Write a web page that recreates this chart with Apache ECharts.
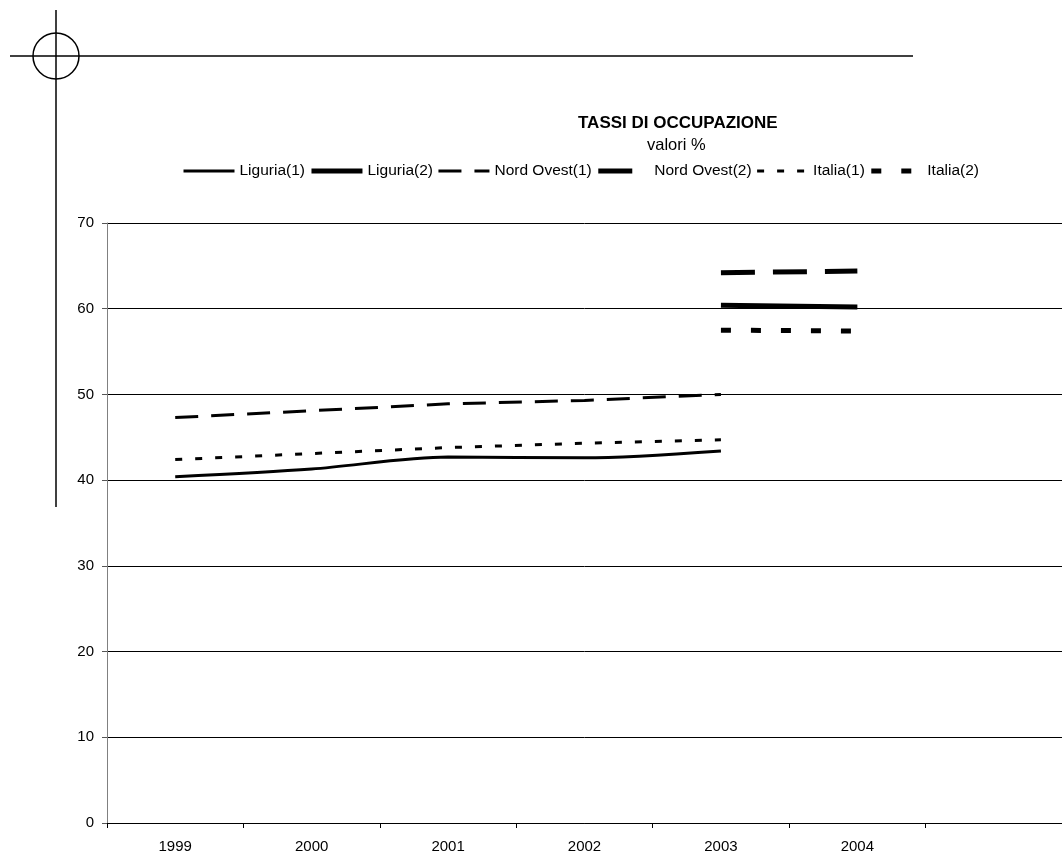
<!DOCTYPE html>
<html>
<head>
<meta charset="utf-8">
<script src="https://cdn.jsdelivr.net/npm/echarts@6/dist/echarts.min.js"></script>
<style>
  html, body { margin: 0; padding: 0; background: #fff; }
  #chart { width: 1062px; height: 854px; }
</style>
</head>
<body>
<div id="chart"></div>
<script>
// dati
const years = ['1999', '2000', '2001', '2002', '2003', '2004', ''];
const liguria1 = [40.4, 41.3, 42.7, 42.6, 43.4, null, null];
const liguria2 = [null, null, null, null, 60.4, 60.2, null];
const nordOvest1 = [47.3, 48.1, 48.9, 49.3, 50.0, null, null];
const nordOvest2 = [null, null, null, null, 64.2, 64.4, null];
const italia1 = [42.4, 43.1, 43.8, 44.3, 44.7, null, null];
const italia2 = [null, null, null, null, 57.5, 57.4, null];
const yTicks = [0, 10, 20, 30, 40, 50, 60, 70];

const font = 'Liberation Sans, Arial, sans-serif';
const chart = echarts.init(document.getElementById('chart'));

function lineSeries(name, data, width, dash, smooth) {
    return {
        name: name,
        type: 'line',
        data: data,
        symbol: 'none',
        showSymbol: false,
        smooth: smooth || false,
        connectNulls: false,
        itemStyle: { color: '#000' },
        lineStyle: { color: '#000', width: width, type: dash, cap: 'butt' }
    };
}

chart.setOption({
    animation: false,
    backgroundColor: '#fff',
    textStyle: { fontFamily: font, color: '#000' },
    title: [
        {
            text: 'TASSI DI OCCUPAZIONE',
            left: 578,
            top: 115,
            padding: 0,
            textStyle: { fontFamily: font, fontSize: 17, fontWeight: 'bold', color: '#000' }
        },
        {
            text: 'valori %',
            left: 647,
            top: 137,
            padding: 0,
            textStyle: { fontFamily: font, fontSize: 16.5, fontWeight: 'normal', color: '#000' }
        }
    ],
    legend: {
        left: 182,
        top: 163,
        padding: 0,
        itemWidth: 51,
        itemHeight: 14,
        itemGap: 4,
        itemStyle: { color: 'rgba(0,0,0,0)', borderColor: 'rgba(0,0,0,0)', borderWidth: 0 },
        lineStyle: { width: 'inherit', type: 'inherit', color: '#000' },
        textStyle: { fontFamily: font, fontSize: 15.5, color: '#000' },
        data: ['Liguria(1)', 'Liguria(2)', 'Nord Ovest(1)', 'Nord Ovest(2)', 'Italia(1)', 'Italia(2)']
    },
    grid: {
        left: 107,
        right: -12,
        top: 223,
        bottom: 31,
        containLabel: false
    },
    xAxis: {
        type: 'category',
        data: years,
        boundaryGap: true,
        axisLine: { show: true, lineStyle: { color: '#000', width: 1 } },
        axisTick: { show: true, length: 5, alignWithLabel: false, lineStyle: { color: '#000' } },
        axisLabel: { margin: 16, fontSize: 15, fontFamily: font, color: '#000', interval: 0 },
        splitLine: { show: false }
    },
    yAxis: {
        type: 'value',
        min: yTicks[0],
        max: yTicks[yTicks.length - 1],
        interval: 10,
        axisLine: { show: true, lineStyle: { color: '#808080', width: 1 } },
        axisTick: { show: true, length: 5, lineStyle: { color: '#555' } },
        axisLabel: { margin: 13, fontSize: 15, fontFamily: font, color: '#000' },
        splitLine: { show: true, lineStyle: { color: '#000', width: 1 } }
    },
    series: [
        lineSeries('Liguria(1)', liguria1, 3, 'solid', 0.3),
        lineSeries('Liguria(2)', liguria2, 5, 'solid'),
        lineSeries('Nord Ovest(1)', nordOvest1, 3, [23, 13]),
        lineSeries('Nord Ovest(2)', nordOvest2, 5, [34, 18]),
        lineSeries('Italia(1)', italia1, 3, [7, 13]),
        lineSeries('Italia(2)', italia2, 5, [10, 20])
    ],
    // segni di taglio della pagina
    graphic: [
        { type: 'line', shape: { x1: 10, y1: 56, x2: 913, y2: 56 }, style: { stroke: '#000', lineWidth: 1.5 } },
        { type: 'line', shape: { x1: 56, y1: 10, x2: 56, y2: 507 }, style: { stroke: '#000', lineWidth: 1.5 } },
        { type: 'circle', shape: { cx: 56, cy: 56, r: 23 }, style: { stroke: '#000', fill: null, lineWidth: 1.5 } }
    ]
});

window.addEventListener('resize', function () {
    chart.resize();
});
</script>
</body>
</html>
